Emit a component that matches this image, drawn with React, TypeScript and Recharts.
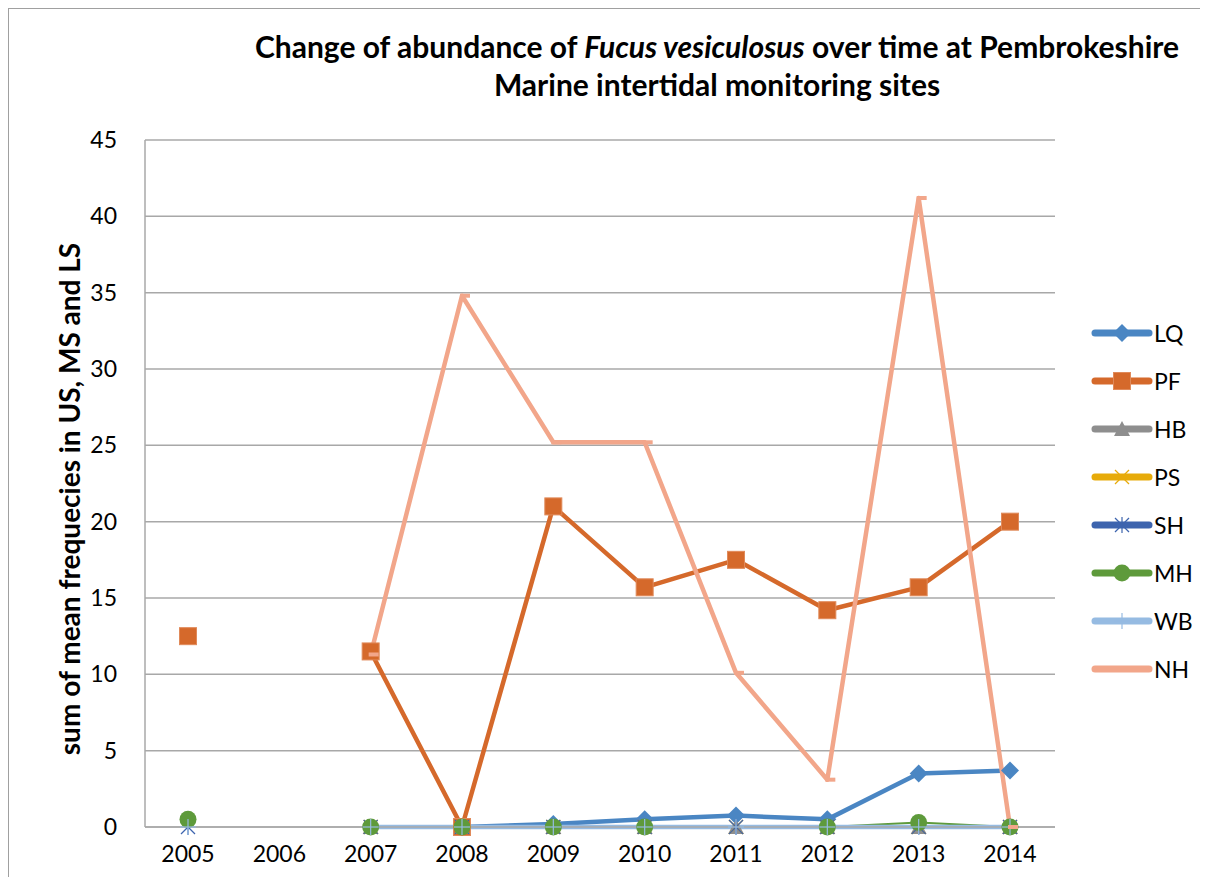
import { LineChart, Line, XAxis, YAxis, CartesianGrid } from "recharts";

const years = ["2005", "2006", "2007", "2008", "2009", "2010", "2011", "2012", "2013", "2014"];

const lq = [null, null, null, 0, 0.2, 0.5, 0.75, 0.5, 3.5, 3.7];
const pf = [12.5, null, 11.5, 0, 21, 15.7, 17.5, 14.2, 15.7, 20];
const hb = [null, null, 0, 0, 0, 0, 0, 0, 0, 0];
const ps = [null, null, 0, 0, 0, 0, 0, 0, 0, 0];
const sh = [0, null, 0, 0, 0, 0, 0, 0, 0, 0];
const mh = [0.5, null, 0, 0, 0, 0, null, 0, 0.3, 0];
const wb = [0, null, 0, 0, 0, 0, 0, 0, 0, 0];
const nh = [null, null, 11.3, 34.8, 25.2, 25.2, 10.1, 3.1, 41.2, 0];

const yTicks = [0, 5, 10, 15, 20, 25, 30, 35, 40, 45];

const data = years.map((year, i) => ({
  year,
  LQ: lq[i],
  PF: pf[i],
  HB: hb[i],
  PS: ps[i],
  SH: sh[i],
  MH: mh[i],
  WB: wb[i],
  NH: nh[i],
}));

type Shape = "diamond" | "square" | "triangle" | "x" | "star" | "circle" | "plus" | "dash";

const series: { key: string; color: string; shape: Shape }[] = [
  { key: "LQ", color: "#4a86c3", shape: "diamond" },
  { key: "PF", color: "#d5692b", shape: "square" },
  { key: "HB", color: "#8e8e8e", shape: "triangle" },
  { key: "PS", color: "#e7ab0a", shape: "x" },
  { key: "SH", color: "#3d64ae", shape: "star" },
  { key: "MH", color: "#5e9a3b", shape: "circle" },
  { key: "WB", color: "#96bbe2", shape: "plus" },
  { key: "NH", color: "#f2a68a", shape: "dash" },
];

const FONT = "Lato, 'Open Sans', sans-serif";

function marker(shape: Shape, color: string, cx: number, cy: number, key?: any) {
  switch (shape) {
    case "diamond":
      return <path key={key} d={`M${cx},${cy - 9}L${cx + 9},${cy}L${cx},${cy + 9}L${cx - 9},${cy}Z`} fill={color} />;
    case "square":
      return <rect key={key} x={cx - 8.5} y={cy - 8.5} width={17} height={17} fill={color} stroke="#e08a5a" strokeWidth={1} />;
    case "triangle":
      return <path key={key} d={`M${cx},${cy - 8}L${cx + 8},${cy + 7}L${cx - 8},${cy + 7}Z`} fill={color} />;
    case "x":
      return (
        <g key={key} stroke={color} strokeWidth={1.2}>
          <line x1={cx - 7} y1={cy - 7} x2={cx + 7} y2={cy + 7} />
          <line x1={cx - 7} y1={cy + 7} x2={cx + 7} y2={cy - 7} />
        </g>
      );
    case "star":
      return (
        <g key={key} stroke={color} strokeWidth={1.2}>
          <line x1={cx - 7} y1={cy - 7} x2={cx + 7} y2={cy + 7} />
          <line x1={cx - 7} y1={cy + 7} x2={cx + 7} y2={cy - 7} />
          <line x1={cx} y1={cy - 8} x2={cx} y2={cy + 8} />
        </g>
      );
    case "circle":
      return <circle key={key} cx={cx} cy={cy} r={8.5} fill={color} />;
    case "plus":
      return (
        <g key={key} stroke={color} strokeWidth={1.2}>
          <line x1={cx - 8} y1={cy} x2={cx + 8} y2={cy} />
          <line x1={cx} y1={cy - 8} x2={cx} y2={cy + 8} />
        </g>
      );
    case "dash":
      return <rect key={key} x={cx - 2} y={cy - 2} width={10} height={4} fill={color} />;
  }
}

const dotFor = (shape: Shape, color: string) => (props: any) => {
  const { cx, cy, index, value } = props;
  if (cx == null || cy == null || value == null) return <g key={`e${index}`} />;
  return marker(shape, color, cx, cy, `d${index}`);
};

function LegendBox() {
  return (
    <div style={{ position: "absolute", left: 1082, top: 300, fontFamily: FONT, fontSize: 23 }}>
      {series.map((s) => (
        <div key={s.key} style={{ display: "flex", alignItems: "center", height: 48 }}>
          <svg width={62} height={24}>
            <line x1={4} y1={12} x2={58} y2={12} stroke={s.color} strokeWidth={7} strokeLinecap="round" />
            {s.shape !== "dash" && marker(s.shape, s.color, 31, 12)}
          </svg>
          <span style={{ marginLeft: 1 }}>{s.key}</span>
        </div>
      ))}
    </div>
  );
}

export default function App() {
  return (
    <div
      style={{
        position: "relative",
        width: 1192,
        height: 869,
        borderTop: "1.5px solid #a0a0a0",
        borderLeft: "1.5px solid #a0a0a0",
        boxSizing: "border-box",
        background: "#fff",
        overflow: "hidden",
      }}
    >
      <div
        style={{
          position: "absolute",
          left: 208,
          width: 1000,
          top: 18,
          textAlign: "center",
          fontFamily: FONT,
          fontWeight: 700,
          fontSize: 30,
          lineHeight: "38px",
        }}
      >
        Change of abundance of <i>Fucus vesiculosus</i> over time at Pembrokeshire
        <br />
        Marine intertidal monitoring sites
      </div>
      <div style={{ position: "absolute", left: 60, top: 490, width: 0, height: 0 }}>
        <div
          style={{
            position: "absolute",
            transform: "translate(-50%, -50%) rotate(-90deg)",
            whiteSpace: "nowrap",
            fontFamily: FONT,
            fontWeight: 700,
            fontSize: 28,
          }}
        >
          sum of mean frequecies in US, MS and LS
        </div>
      </div>
      <LineChart
        width={1192}
        height={869}
        data={data}
        margin={{ top: 132, right: 145, left: 77, bottom: 10 }}
        style={{ position: "absolute", left: -1.5, top: -1.5 }}
      >
        <CartesianGrid vertical={false} stroke="#a8a8a8" strokeWidth={1.5} />
        <XAxis
          dataKey="year"
          padding={{ left: 43, right: 45 }}
          stroke="#a8a8a8"
          strokeWidth={1.5}
          tickLine={false}
          tickSize={0}
          tickMargin={19}
          height={40}
          tick={{ fill: "#000", fontSize: 23, fontFamily: FONT }}
        />
        <YAxis
          domain={[0, 45]}
          ticks={yTicks}
          interval={0}
          width={60}
          stroke="#a8a8a8"
          strokeWidth={1.5}
          tickLine={false}
          tickSize={0}
          tickMargin={28}
          tick={{ fill: "#000", fontSize: 23, fontFamily: FONT }}
        />
        {series.map((s) => (
          <Line
            key={s.key}
            dataKey={s.key}
            stroke={s.color}
            strokeWidth={s.key === "MH" || s.key === "HB" || s.key === "PS" || s.key === "SH" ? 2 : 4.5}
            strokeLinejoin="round"
            dot={dotFor(s.shape, s.color)}
            activeDot={false}
            isAnimationActive={false}
            connectNulls={false}
            type="linear"
          />
        ))}
      </LineChart>
      <LegendBox />
    </div>
  );
}
